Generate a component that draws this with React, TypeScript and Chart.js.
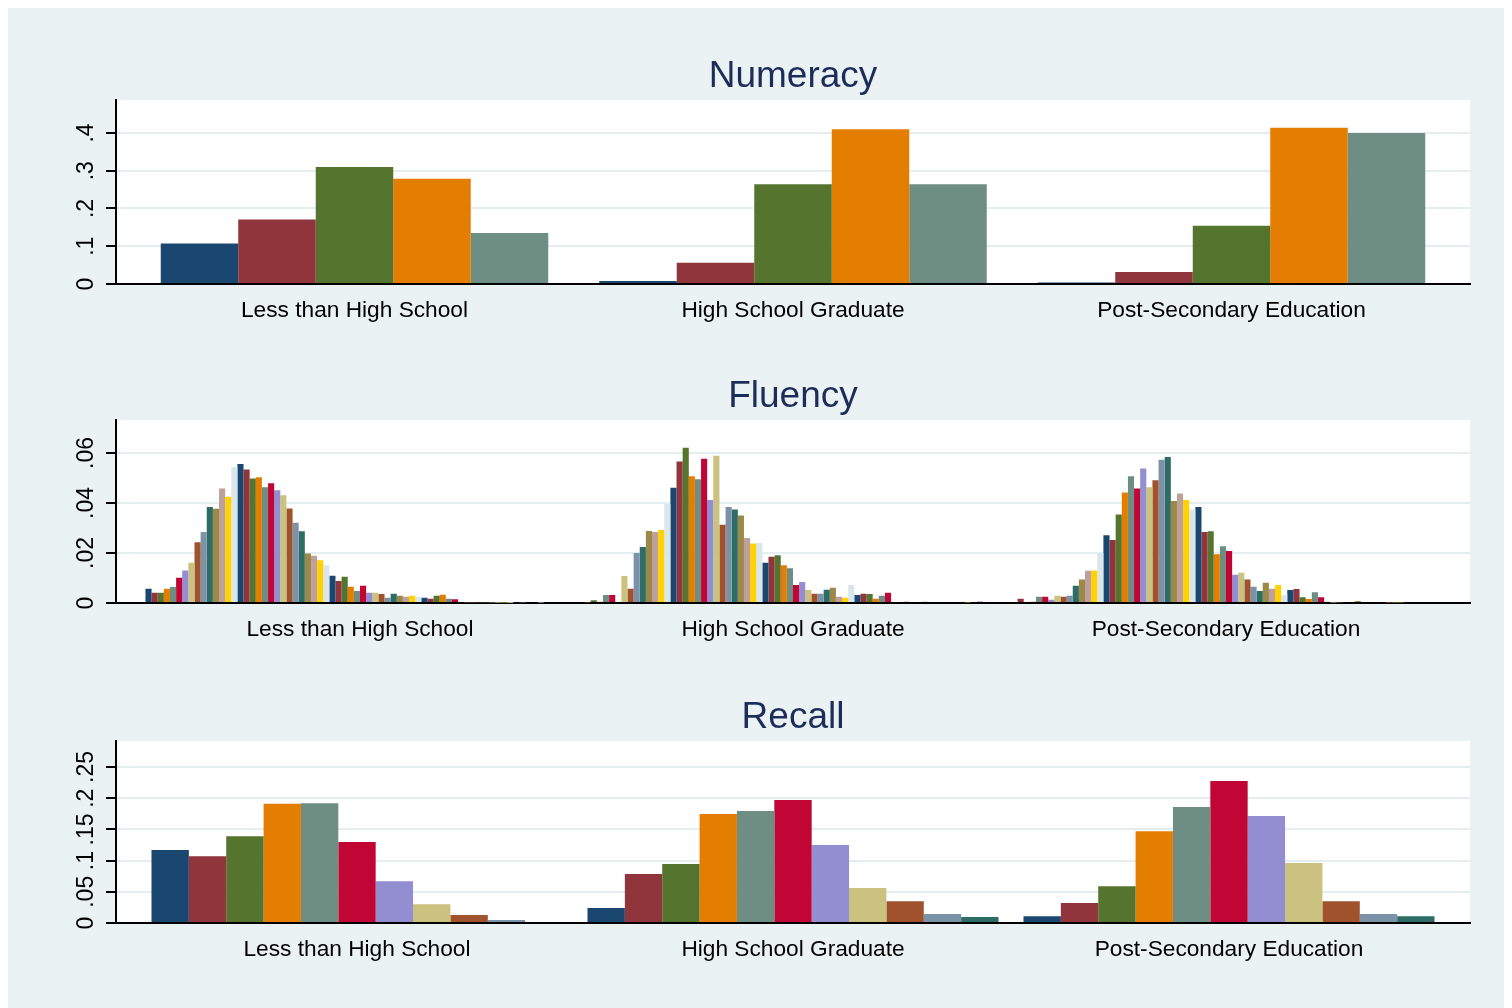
import React, { useEffect, useRef } from 'react';
import { Chart, registerables } from 'chart.js';

Chart.register(...registerables);

// ---------------- data ----------------
const categories = ['Less than High School', 'High School Graduate', 'Post-Secondary Education'];

// Stata s2color palette (cycled)
const palette = [
  '#1a476f', '#90353b', '#55752f', '#e37e00', '#6e8e84',
  '#c10534', '#938dd2', '#cac27e', '#a0522d', '#7b92a8',
  '#2d6d66', '#9c8847', '#bfa19c', '#ffd200', '#d9e6eb',
];

// Numeracy (5 score levels)
const numeracyLess = [0.107, 0.171, 0.310, 0.279, 0.135];
const numeracyHS = [0.008, 0.056, 0.264, 0.410, 0.264];
const numeracyPost = [0.004, 0.032, 0.154, 0.414, 0.400];
const numeracyTicks = [0, 0.1, 0.2, 0.3, 0.4];
const numeracyTickLabels = ['0', '.1', '.2', '.3', '.4'];

// Fluency (70 score levels)
const fluencyLess = [
  0.0057, 0.0041, 0.0041, 0.0057, 0.0064, 0.0101, 0.0130, 0.0161, 0.0243, 0.0284,
  0.0384, 0.0377, 0.0458, 0.0425, 0.0544, 0.0556, 0.0534, 0.0498, 0.0503, 0.0463,
  0.0479, 0.0451, 0.0431, 0.0378, 0.0321, 0.0287, 0.0198, 0.0189, 0.0171, 0.0151,
  0.0109, 0.0088, 0.0105, 0.0065, 0.0048, 0.0069, 0.0041, 0.0041, 0.0036, 0.0021,
  0.0037, 0.0029, 0.0025, 0.0029, 0.0025, 0.0021, 0.0017, 0.0029, 0.0033, 0.0017,
  0.0015, 0.0004, 0.0003, 0.0002, 0.0003, 0.0002, 0.0002, 0.0001, 0.0002, 0.0001,
  0, 0.0001, 0, 0, 0.0001, 0, 0, 0, 0, 0,
];
const fluencyHS = [
  0, 0.0002, 0.0011, 0.0005, 0.0032, 0.0032, 0, 0.0108, 0.0057, 0.0200,
  0.0224, 0.0288, 0.0284, 0.0292, 0.0396, 0.0461, 0.0566, 0.0621, 0.0507, 0.0495,
  0.0577, 0.0412, 0.0589, 0.0313, 0.0384, 0.0374, 0.0350, 0.0260, 0.0238, 0.0240,
  0.0161, 0.0185, 0.0191, 0.0151, 0.0139, 0.0072, 0.0084, 0.0052, 0.0037, 0.0037,
  0.0053, 0.0061, 0.0025, 0.0021, 0.0072, 0.0032, 0.0037, 0.0036, 0.0017, 0.0029,
  0.0041, 0, 0, 0.0005, 0, 0, 0.0005, 0, 0, 0,
  0, 0, 0, 0.0002, 0, 0.0005, 0, 0, 0, 0,
];
const fluencyPost = [
  0.0004, 0.0017, 0, 0.0005, 0.0025, 0.0025, 0.0013, 0.0029, 0.0025, 0.0029,
  0.0069, 0.0094, 0.0129, 0.0130, 0.0200, 0.0271, 0.0252, 0.0354, 0.0442, 0.0507,
  0.0458, 0.0538, 0.0463, 0.0491, 0.0573, 0.0584, 0.0408, 0.0438, 0.0412, 0.0374,
  0.0384, 0.0284, 0.0287, 0.0195, 0.0227, 0.0208, 0.0113, 0.0121, 0.0094, 0.0065,
  0.0048, 0.0081, 0.0057, 0.0072, 0.0032, 0.0052, 0.0056, 0.0023, 0.0016, 0.0043,
  0.0023, 0.0005, 0.0002, 0.0002, 0, 0, 0.0008, 0, 0.0004, 0,
  0, 0.0001, 0.0001, 0.0002, 0, 0, 0, 0, 0, 0,
];
const fluencyTicks = [0, 0.02, 0.04, 0.06];
const fluencyTickLabels = ['0', '.02', '.04', '.06'];

// Recall (11 score levels)
const recallLess = [0.117, 0.107, 0.139, 0.191, 0.192, 0.130, 0.067, 0.030, 0.013, 0.005, 0];
const recallHS = [0.024, 0.0785, 0.0946, 0.1747, 0.1795, 0.197, 0.125, 0.056, 0.035, 0.0144, 0.0096];
const recallPost = [0.011, 0.032, 0.059, 0.147, 0.186, 0.2276, 0.1715, 0.096, 0.035, 0.0144, 0.011];
const recallTicks = [0, 0.05, 0.1, 0.15, 0.2, 0.25];
const recallTickLabels = ['0', '.05', '.1', '.15', '.2', '.25'];

// ---------------- style / layout ----------------
const FAMILY = '"Liberation Sans", Arial, Helvetica, sans-serif';
const BG = '#eaf2f3';
const GRID = '#e4edf0';
const TITLE_COLOR = '#1c2d5a';
const CANVAS_W = 1504;
const AXIS_W = 108;
const RIGHT_PAD = 42;
const TICK_LEN = 10;
const TICK_FONT = 23;
const LABEL_CENTER = 29; // distance of y tick label centre from the axis
const TOP_AREA = 92;
const X_AXIS_H = 46;
const TITLE_SIZE = 37;

type PanelSpec = {
  title: string;
  groups: number[][];
  ticks: number[];
  tickLabels: string[];
  yMax: number;
  top: number;
  plotH: number;
  pitch: number;
  catPct: number;
};

const panels: PanelSpec[] = [
  { title: 'Numeracy', groups: [numeracyLess, numeracyHS, numeracyPost], ticks: numeracyTicks, tickLabels: numeracyTickLabels, yMax: 0.4874, top: 0, plotH: 184, pitch: 438.5, catPct: 0.8837 },
  { title: 'Fluency', groups: [fluencyLess, fluencyHS, fluencyPost], ticks: fluencyTicks, tickLabels: fluencyTickLabels, yMax: 0.0732, top: 320, plotH: 183, pitch: 433, catPct: 0.991 },
  { title: 'Recall', groups: [recallLess, recallHS, recallPost], ticks: recallTicks, tickLabels: recallTickLabels, yMax: 0.2917, top: 641, plotH: 182, pitch: 436, catPct: 0.9427 },
];

const whiteArea = {
  id: 'whiteArea',
  beforeDraw(chart: any) {
    const { ctx, chartArea } = chart;
    ctx.save();
    ctx.fillStyle = '#ffffff';
    ctx.fillRect(chartArea.left, chartArea.top, chartArea.right - chartArea.left, chartArea.bottom - chartArea.top);
    ctx.restore();
  },
};

function Panel({ spec }: { spec: PanelSpec }) {
  const ref = useRef<HTMLCanvasElement>(null);
  const height = TOP_AREA + spec.plotH + X_AXIS_H;

  useEffect(() => {
    const n = spec.groups[0].length;
    const datasets = Array.from({ length: n }, (_, i) => ({
      label: String(i),
      data: spec.groups.map((g) => g[i]),
      backgroundColor: palette[i % palette.length],
      borderWidth: 0,
      barPercentage: 1,
      categoryPercentage: spec.catPct,
    }));

    const m = document.createElement('canvas').getContext('2d')!;
    m.font = `${TICK_FONT}px ${FAMILY}`;
    const widest = Math.max(...spec.tickLabels.map((l) => m.measureText(l).width));
    const pad = LABEL_CENTER - TICK_LEN - widest / 2;
    const areaW = CANVAS_W - AXIS_W - RIGHT_PAD;
    const edge = (areaW / spec.pitch - 3) / 2;
    const titleLine = TITLE_SIZE * 1.2;
    const titleTop = 69 - titleLine / 2;

    const chart = new Chart(ref.current!, {
      type: 'bar',
      data: { labels: categories, datasets },
      options: {
        animation: false,
        responsive: false,
        devicePixelRatio: 1,
        layout: { padding: { left: 0, right: RIGHT_PAD, top: 0, bottom: 0 } },
        plugins: {
          legend: { display: false },
          tooltip: { enabled: false },
          title: {
            display: true,
            fullSize: false,
            text: spec.title,
            color: TITLE_COLOR,
            font: { size: TITLE_SIZE, weight: 'normal', family: FAMILY, lineHeight: 1.2 },
            padding: { top: titleTop, bottom: TOP_AREA - titleTop - titleLine },
          },
        },
        scales: {
          x: {
            offset: true,
            grid: { display: false, drawTicks: false },
            border: { display: true, color: '#000', width: 2 },
            ticks: { color: '#000', font: { size: 22.7, family: FAMILY }, padding: 13, maxRotation: 0, autoSkip: false },
            afterBuildTicks: (s: any) => {
              s._startValue = -0.5 - edge;
              s._valueRange = 3 + 2 * edge;
            },
            afterFit: (s: any) => { s.height = X_AXIS_H; },
          },
          y: {
            min: 0,
            max: spec.yMax,
            afterBuildTicks: (s: any) => { s.ticks = spec.ticks.map((v) => ({ value: v })); },
            afterFit: (s: any) => { s.width = AXIS_W; },
            ticks: {
              callback: (_v: any, i: number) => spec.tickLabels[i],
              minRotation: 90,
              maxRotation: 90,
              crossAlign: 'center',
              padding: pad,
              autoSkip: false,
              color: '#000',
              font: { size: TICK_FONT, family: FAMILY },
            },
            grid: { color: GRID, lineWidth: 2, tickColor: '#000', tickWidth: 2, tickLength: TICK_LEN, drawTicks: true },
            border: { display: true, color: '#000', width: 2 },
          },
        },
      } as any,
      plugins: [whiteArea],
    });
    return () => chart.destroy();
  }, [spec]);

  return (
    <canvas
      ref={ref}
      width={CANVAS_W}
      height={height}
      style={{ position: 'absolute', left: 0, top: spec.top, width: CANVAS_W, height }}
    />
  );
}

export default function App() {
  useEffect(() => {
    document.documentElement.style.overflow = 'hidden';
    document.body.style.overflow = 'hidden';
  }, []);
  return (
    <div style={{ position: 'relative', width: CANVAS_W, height: 1000, background: BG, overflow: 'hidden' }}>
      {panels.map((p) => (
        <Panel key={p.title} spec={p} />
      ))}
    </div>
  );
}
